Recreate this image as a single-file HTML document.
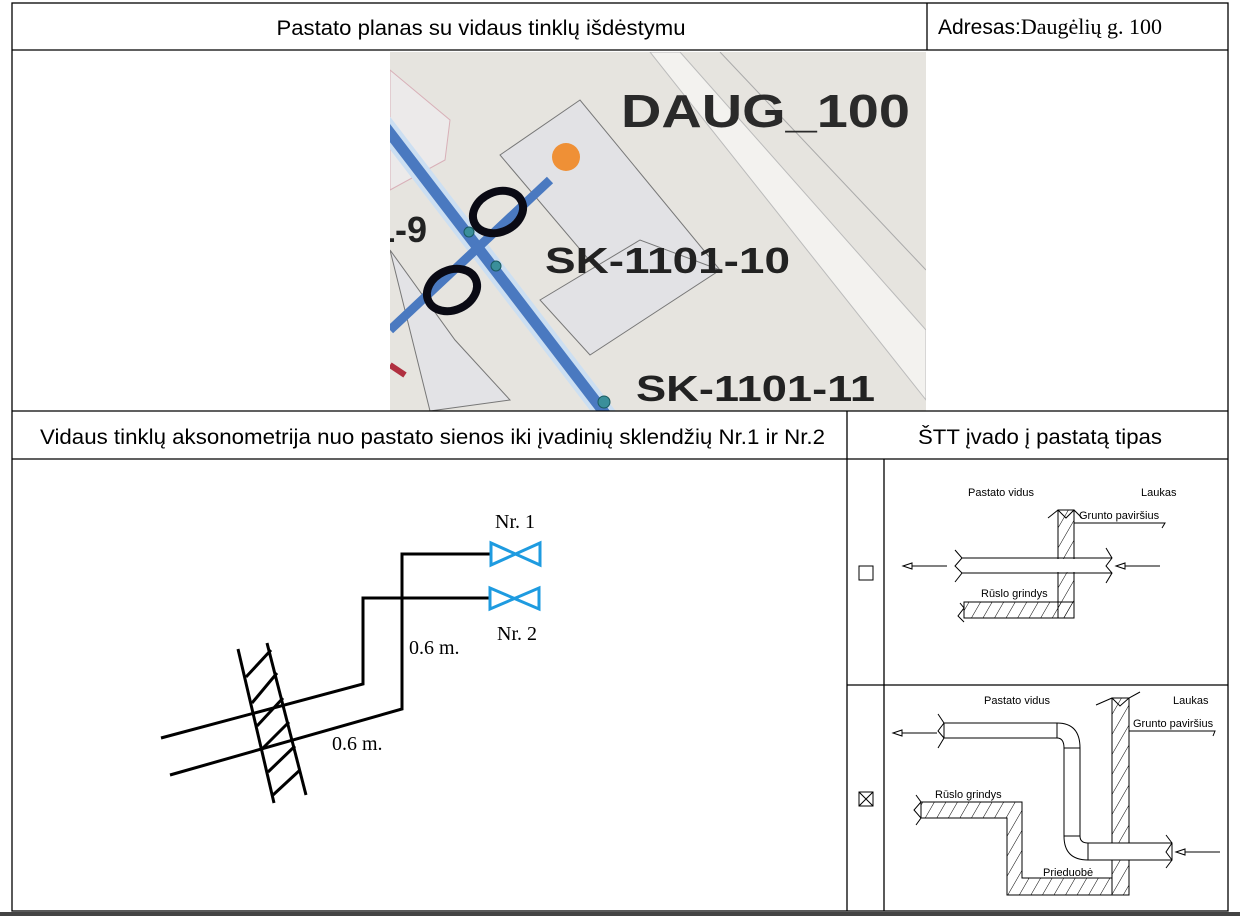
<!DOCTYPE html>
<html><head><meta charset="utf-8"><style>
html,body{margin:0;padding:0;background:#fff;}
svg{display:block;}
.s{font-family:"Liberation Sans",sans-serif;}
.r{font-family:"Liberation Serif",serif;}
</style></head><body>
<svg width="1240" height="916" viewBox="0 0 1240 916" xmlns="http://www.w3.org/2000/svg">
<rect x="0" y="0" width="1240" height="916" fill="#fff"/>
<defs>
<clipPath id="mc"><rect x="390" y="52" width="536" height="359"/></clipPath>
<pattern id="h" width="10" height="10" patternUnits="userSpaceOnUse" patternTransform="rotate(30)">
<line x1="0" y1="0" x2="0" y2="10" stroke="#000" stroke-width="1"/></pattern>
</defs>
<g clip-path="url(#mc)">
<rect x="390" y="52" width="536" height="359" fill="#e6e4df"/>
<path d="M680 52 L926 330 L926 400 L650 52 Z" fill="#f3f2ef" stroke="#bbb"/>
<path d="M720 52 L926 270" stroke="#aaa" fill="none"/>
<path d="M500 155 L580 100 L720 270 L640 320 Z" fill="#e2e2e5" stroke="#777"/>
<path d="M540 300 L640 240 L720 270 L590 355 Z" fill="#e2e2e5" stroke="#777"/>
<path d="M390 250 L455 340 L510 400 L430 411 Z" fill="#e3e3e6" stroke="#777"/>
<path d="M390 70 L450 120 L445 160 L390 190 Z" fill="#eceaea" stroke="#d8b0b8"/>
<path d="M380 120 L610 420" stroke="#ccdff2" stroke-width="20"/>
<path d="M380 120 L610 420" stroke="#4a79c0" stroke-width="11"/>
<path d="M390 330 L550 180" stroke="#4a79c0" stroke-width="9"/>
<path d="M390 365 L405 375" stroke="#b03040" stroke-width="6"/>
<ellipse cx="498" cy="212" rx="26" ry="20" fill="none" stroke="#0a0a14" stroke-width="8" transform="rotate(-25 498 212)"/>
<ellipse cx="452" cy="290" rx="26" ry="20" fill="none" stroke="#0a0a14" stroke-width="8" transform="rotate(-25 452 290)"/>
<circle cx="469" cy="232" r="5" fill="#3a8f9a" stroke="#1a5a60"/>
<circle cx="496" cy="266" r="5" fill="#3a8f9a" stroke="#1a5a60"/>
<circle cx="604" cy="402" r="6" fill="#3a8f9a" stroke="#1a5a60"/>
<circle cx="566" cy="157" r="14" fill="#ef9036"/>
<text x="621" y="127" class="s" font-size="46" font-weight="bold" fill="#2a2a2a" textLength="289" lengthAdjust="spacingAndGlyphs">DAUG_100</text>
<text x="545" y="273" class="s" font-size="36" font-weight="bold" fill="#222" textLength="245" lengthAdjust="spacingAndGlyphs">SK-1101-10</text>
<text x="636" y="401" class="s" font-size="36" font-weight="bold" fill="#222" textLength="239" lengthAdjust="spacingAndGlyphs">SK-1101-11</text>
<text x="375" y="242" class="s" font-size="36" font-weight="bold" fill="#222">1-9</text>
</g>
<g stroke="#000" stroke-width="1.3" fill="none">
<rect x="12" y="3" width="1216" height="908"/>
<line x1="12" y1="50" x2="1228" y2="50"/>
<line x1="927" y1="3" x2="927" y2="50"/>
<line x1="12" y1="411" x2="1228" y2="411"/>
<line x1="12" y1="459" x2="1228" y2="459"/>
<line x1="847" y1="411" x2="847" y2="911"/>
<line x1="884" y1="459" x2="884" y2="911"/>
<line x1="847" y1="685" x2="1228" y2="685"/>
</g>
<rect x="0" y="912" width="1240" height="4" fill="#444"/>
<text x="481" y="35" text-anchor="middle" class="s" font-size="21" textLength="409" lengthAdjust="spacingAndGlyphs">Pastato planas su vidaus tinklų išdėstymu</text>
<text x="938" y="34" class="s" font-size="21">Adresas:<tspan class="r" font-size="22">Daugėlių g. 100</tspan></text>
<text x="40" y="444" class="s" font-size="21" textLength="785" lengthAdjust="spacingAndGlyphs">Vidaus tinklų aksonometrija nuo pastato sienos iki įvadinių sklendžių Nr.1 ir Nr.2</text>
<text x="918" y="444" class="s" font-size="21" textLength="244" lengthAdjust="spacingAndGlyphs">ŠTT įvado į pastatą tipas</text>
<rect x="859" y="566" width="14" height="14" fill="none" stroke="#000"/>
<rect x="859" y="792" width="14" height="14" fill="none" stroke="#000"/>
<path d="M859 792 L873 806 M873 792 L859 806" stroke="#000"/>
<g stroke="#000" stroke-width="3" fill="none">
<polyline points="161,738 363,684 363,598 490,598"/>
<polyline points="170,775 402,709 402,554 490,554"/>
<line x1="238" y1="649" x2="274" y2="803"/>
<line x1="267" y1="643" x2="306" y2="795"/>
<line x1="246" y1="677" x2="271" y2="650"/>
<line x1="252" y1="703" x2="277" y2="673"/>
<line x1="257" y1="726" x2="283" y2="698"/>
<line x1="262" y1="749" x2="289" y2="722"/>
<line x1="268" y1="772" x2="295" y2="746"/>
<line x1="273" y1="795" x2="300" y2="770"/>
</g>
<g stroke="#1e9be0" stroke-width="3" fill="none">
<path d="M491 543 L491 565 L540 543 L540 565 Z"/>
<path d="M490 588 L490 609 L539 588 L539 609 Z"/>
</g>
<text x="495" y="528" class="r" font-size="20">Nr. 1</text>
<text x="497" y="640" class="r" font-size="20">Nr. 2</text>
<text x="409" y="654" class="r" font-size="20">0.6 m.</text>
<text x="332" y="750" class="r" font-size="20">0.6 m.</text>
<g stroke="#000" stroke-width="1" fill="none">
<rect x="1058" y="510" width="16" height="108" fill="url(#h)"/>
<rect x="964" y="602" width="110" height="16" fill="url(#h)"/>
<path d="M964 602 L1058 602 L1058 510 M964 618 L1074 618 L1074 510"/>
<rect x="963" y="559" width="148" height="13" fill="#fff" stroke="none"/>
<path d="M955 550 L962 558 L955 566 L962 573 L955 582 M1106 548 L1112 558 L1106 566 L1112 573 L1106 583"/>
<line x1="962" y1="558" x2="1112" y2="558"/><line x1="962" y1="573" x2="1112" y2="573"/>
<path d="M1048 518 L1058 510 L1066 518 L1074 510 L1082 518"/>
<path d="M1074 523 L1165 523 L1162 528"/>
<path d="M960 603 L964 608 L958 616 L964 622"/>
<path d="M947 566 L912 566 M903 566 L912 563 L912 569 Z"/>
<path d="M1160 566 L1125 566 M1116 566 L1125 563 L1125 569 Z"/>
</g>
<g class="s" font-size="11" fill="#000">
<text x="968" y="496">Pastato vidus</text>
<text x="1141" y="496">Laukas</text>
<text x="1079" y="519">Grunto paviršius</text>
<text x="981" y="597">Rūslo grindys</text>
</g>
<g stroke="#000" stroke-width="1" fill="none">
<rect x="1112" y="698" width="17" height="197" fill="url(#h)"/>
<path d="M921 802 L1022 802 L1022 878 L1112 878 L1112 895 L1007 895 L1007 818 L921 818 Z" fill="url(#h)"/>
<path d="M1096 705 L1112 698 L1120 706 L1129 698 L1140 692"/>
<path d="M1129 731 L1215 731 L1213 736"/>
<path d="M944 723 L1057 723 Q1080 723 1080 748 L1080 836 Q1080 843 1088 843 L1172 843 L1172 860 L1088 860 Q1064 860 1064 836 L1064 748 Q1064 738 1057 738 L944 738 Z" fill="#fff"/>
<path d="M944 723 L938 731 L944 738 M938 714 L944 723 M938 748 L944 738 M1172 843 L1166 852 L1172 860 M1166 835 L1172 843 M1166 868 L1172 860"/>
<path d="M1057 723 L1057 738 M1064 748 L1080 748 M1064 836 L1080 836 M1088 843 L1088 860"/>
<path d="M916 795 L921 802 L914 810 L921 818 L916 825"/>
<path d="M937 733 L902 733 M893 733 L902 730 L902 736 Z"/>
<path d="M1220 852 L1185 852 M1176 852 L1185 849 L1185 855 Z"/>
</g>
<g class="s" font-size="11" fill="#000">
<text x="984" y="704">Pastato vidus</text>
<text x="1173" y="704">Laukas</text>
<text x="1133" y="727">Grunto paviršius</text>
<text x="935" y="798">Rūslo grindys</text>
<text x="1043" y="876">Prieduobė</text>
</g>
</svg>
</body></html>
